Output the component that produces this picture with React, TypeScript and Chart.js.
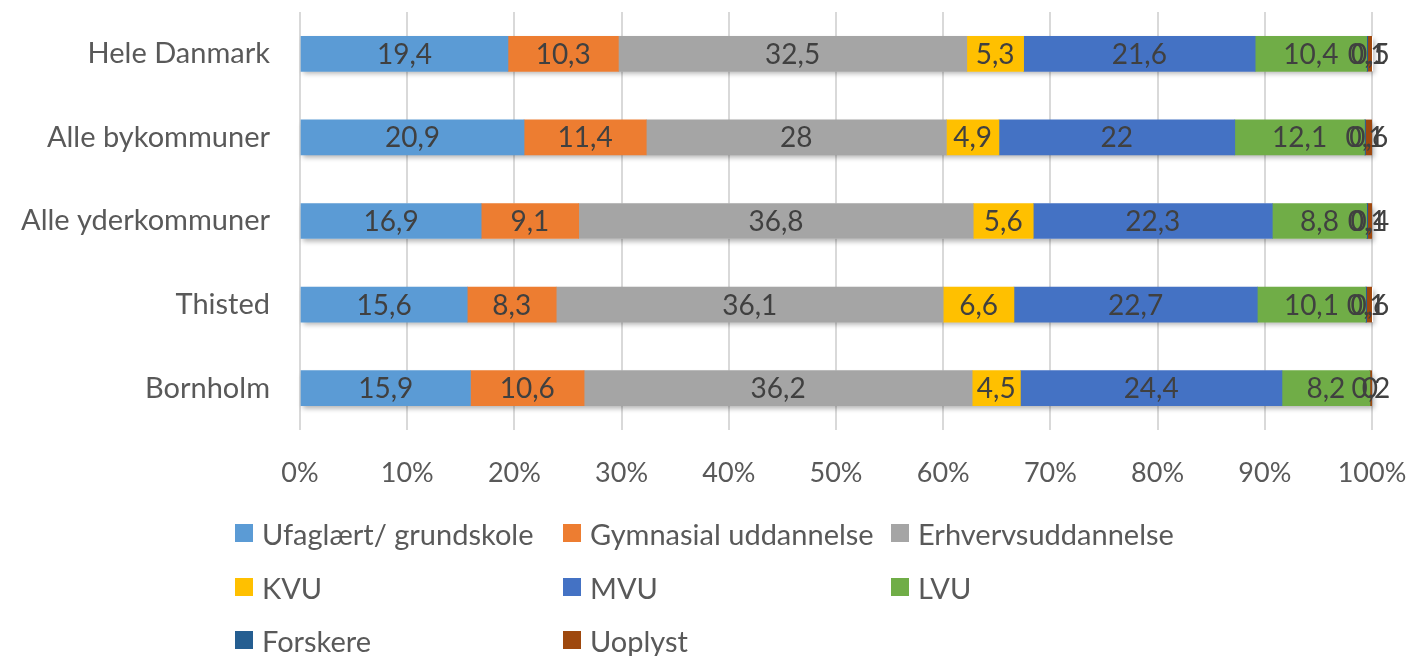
import React, { useEffect, useRef } from "react";
import { Chart, registerables } from "chart.js";
Chart.register(...registerables);

const categories = ["Hele Danmark", "Alle bykommuner", "Alle yderkommuner", "Thisted", "Bornholm"];
const seriesNames = ["Ufaglært/ grundskole", "Gymnasial uddannelse", "Erhvervsuddannelse", "KVU", "MVU", "LVU", "Forskere", "Uoplyst"];
const ufaglaert = [19.4, 20.9, 16.9, 15.6, 15.9];
const gymnasial = [10.3, 11.4, 9.1, 8.3, 10.6];
const erhverv = [32.5, 28, 36.8, 36.1, 36.2];
const kvu = [5.3, 4.9, 5.6, 6.6, 4.5];
const mvu = [21.6, 22, 22.3, 22.7, 24.4];
const lvu = [10.4, 12.1, 8.8, 10.1, 8.2];
const forskere = [0.1, 0.1, 0.1, 0.1, 0];
const uoplyst = [0.5, 0.6, 0.4, 0.6, 0.2];
const xTicks = [0, 10, 20, 30, 40, 50, 60, 70, 80, 90, 100];

const colors = ["#5B9BD5", "#ED7D31", "#A5A5A5", "#FFC000", "#4472C4", "#70AD47", "#255E91", "#9E480E"];
const FONT = "Lato, 'Open Sans', sans-serif";

export default function App() {
  const ref = useRef<HTMLCanvasElement>(null);
  useEffect(() => {
    const values = [ufaglaert, gymnasial, erhverv, kvu, mvu, lvu, forskere, uoplyst];
    const shadowPlugin = {
      id: "barShadow",
      beforeDatasetsDraw(chart: any) {
        const ctx = chart.ctx;
        const n = chart.data.datasets.length;
        const first = chart.getDatasetMeta(0);
        const last = chart.getDatasetMeta(n - 1);
        ctx.save();
        ctx.shadowColor = "rgba(0,0,0,0.3)";
        ctx.shadowBlur = 5;
        ctx.shadowOffsetX = 2;
        ctx.shadowOffsetY = 3;
        ctx.fillStyle = "#ffffff";
        first.data.forEach((bar: any, i: number) => {
          const x0 = bar.base;
          const x1 = last.data[i].x;
          const h = bar.height;
          ctx.fillRect(x0, bar.y - h / 2, x1 - x0, h);
        });
        ctx.restore();
      },
    };
    const labelPlugin = {
      id: "valueLabels",
      afterDatasetsDraw(chart: any) {
        const ctx = chart.ctx;
        ctx.save();
        ctx.font = `28px ${FONT}`;
        ctx.fillStyle = "#404040";
        ctx.textAlign = "center";
        ctx.textBaseline = "middle";
        chart.data.datasets.forEach((ds: any, di: number) => {
          const meta = chart.getDatasetMeta(di);
          meta.data.forEach((bar: any, i: number) => {
            const v = ds.data[i];
            const x = (bar.x + bar.base) / 2;
            ctx.fillText(String(v).replace(".", ","), x, bar.y + 1);
          });
        });
        ctx.restore();
      },
    };
    const chart = new Chart(ref.current!, {
      type: "bar",
      data: {
        labels: categories,
        datasets: values.map((d, i) => ({
          label: seriesNames[i],
          data: d,
          backgroundColor: colors[i],
          borderWidth: 0,
          barThickness: 35,
        })),
      },
      options: {
        indexAxis: "y",
        animation: false,
        responsive: false,
        maintainAspectRatio: false,
        layout: { padding: { top: 12, right: 39, left: 0, bottom: 0 } },
        plugins: { legend: { display: false }, tooltip: { enabled: false } },
        scales: {
          x: {
            stacked: true,
            min: 0,
            max: 100,
            afterBuildTicks: (s: any) => { s.ticks = xTicks.map((v) => ({ value: v })); },
            afterFit: (s: any) => { s.height = 226; s.paddingLeft = 0; s.paddingRight = 0; },
            grid: { color: "#d9d9d9", lineWidth: 2, drawTicks: false },
            border: { display: false },
            ticks: {
              padding: 27,
              color: "#595959",
              font: { family: FONT, size: 27 },
              callback: (v: any) => v + "%",
            },
          },
          y: {
            stacked: true,
            afterFit: (s: any) => { s.width = 300; s.paddingTop = 0; s.paddingBottom = 0; },
            grid: { display: false, drawTicks: false },
            border: { display: false },
            ticks: { padding: 30, color: "#595959", font: { family: FONT, size: 29 } },
          },
        },
      },
      plugins: [shadowPlugin, labelPlugin],
    });
    return () => chart.destroy();
  }, []);

  const legendPos = [
    [235, 533], [563, 533], [891, 533],
    [235, 587], [563, 587], [891, 587],
    [235, 640], [563, 640],
  ];
  return (
    <div style={{ position: "fixed", left: 0, top: 0, width: 1411, height: 656, background: "#fff" }}>
      <canvas ref={ref} width={1411} height={656} style={{ position: "absolute", left: 0, top: 0 }} />
      {seriesNames.map((n, i) => (
        <div key={n} style={{ position: "absolute", left: legendPos[i][0], top: legendPos[i][1] - 20, height: 40, display: "flex", alignItems: "center", fontFamily: FONT, fontSize: 29, color: "#595959", whiteSpace: "nowrap" }}>
          <span style={{ display: "inline-block", width: 18, height: 18, background: colors[i], marginRight: 9 }} />
          {n}
        </div>
      ))}
    </div>
  );
}
